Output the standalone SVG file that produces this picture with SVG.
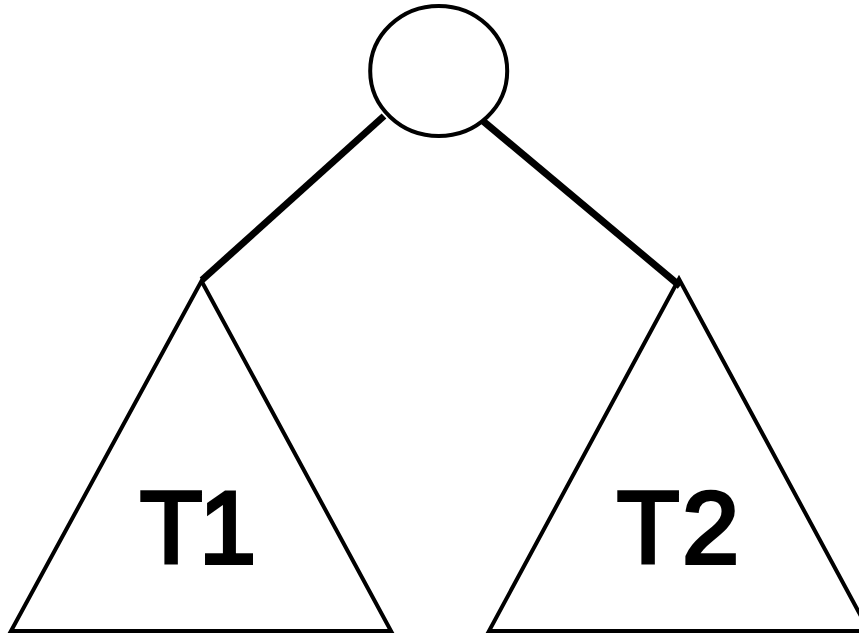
<svg xmlns="http://www.w3.org/2000/svg" width="859" height="636" viewBox="0 0 859 636">
<style>
.node{fill:none;stroke:#000;stroke-width:4}
.edge{stroke:#000;stroke-width:7;fill:none}
.lbl{font-family:"Liberation Sans",Arial,sans-serif;font-size:102px;fill:#000;stroke:#000;stroke-width:4;stroke-linejoin:miter}
</style>
<rect width="859" height="636" fill="#fff"/>
<g id="connectors">
<line class="edge" x1="384" y1="116" x2="202" y2="280"/>
<line class="edge" x1="483" y1="121" x2="680" y2="286"/>
</g>
<g id="root">
<ellipse class="node" cx="438.7" cy="71" rx="68.5" ry="65"/>
</g>
<g id="T1">
<polygon class="node" points="201.5,281 11,631 391,631"/>
<text class="lbl" x="140" y="563">T<tspan dx="-3">1</tspan></text>
</g>
<g id="T2">
<polygon class="node" points="679,279 489,631 869,631"/>
<text class="lbl" x="617" y="563">T<tspan dx="3">2</tspan></text>
</g>
</svg>
